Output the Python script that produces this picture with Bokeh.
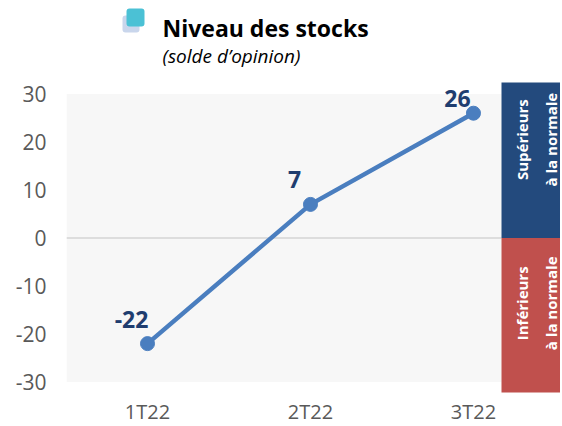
import math
from bokeh.plotting import figure
from bokeh.models import Range1d, FixedTicker, Label, ColumnDataSource, BoxAnnotation
from bokeh.core.properties import value
from bokeh.embed import file_html
from bokeh.resources import INLINE

categories = ["1T22", "2T22", "3T22"]
values = [-22, 7, 26]
y_ticks = [-30, -20, -10, 0, 10, 20, 30]
title_text = "Niveau des stocks"
subtitle_text = "(solde d\u2019opinion)"
band_top_text = "Supérieurs\nà la normale"
band_bottom_text = "Inférieurs\nà la normale"

FONT = "Open Sans"
xs = list(range(len(categories)))

# frame: page x 67..561, page y 1..426 ; 4.8 px per unit, 163 px per category
p = figure(width=560, height=425, output_backend="svg", toolbar_location=None,
           x_axis_location=None,
           x_range=Range1d(-0.497, 2.534), y_range=Range1d(-39.06, 49.48),
           min_border_left=66, min_border_right=0, min_border_top=0, min_border_bottom=0)
p.outline_line_color = None
p.background_fill_color = "white"
p.border_fill_color = "white"
p.xgrid.visible = False
p.ygrid.visible = False

# plot area background
p.quad(left=-0.497, right=2.172, bottom=-30, top=30, fill_color="#f7f7f7", line_color=None)
# zero line
p.segment(x0=-0.497, y0=0, x1=2.172, y1=0, line_color="#d4d4d4", line_width=1.5)

# side bands
p.quad(left=2.172, right=2.7, bottom=0, top=32.4, fill_color="#234a7d", line_color=None)
p.quad(left=2.172, right=2.7, bottom=-32.2, top=0, fill_color="#c0504d", line_color=None)
p.text(x=[2.387, 2.387], y=[20.5, -13.6], text=[band_top_text, band_bottom_text],
       angle=math.pi / 2, text_align="center", text_baseline="middle",
       text_color="white", text_font=value(FONT), text_font_style="bold",
       text_font_size="15px", text_line_height=1.45)

# series
src = ColumnDataSource(dict(x=xs, y=values, lab=[str(v) for v in values],
                            ly=[min(v + 5.1, 29.1) for v in values]))
p.line("x", "y", source=src, line_color="#4a7ebf", line_width=4.5)
p.scatter("x", "y", source=src, size=14, fill_color="#4a7ebf", line_color="#4a7ebf")
p.text("x", "ly", text="lab", source=src, x_offset=-16,
       text_align="center", text_baseline="middle", text_color="#1f3d6f",
       text_font=value(FONT), text_font_style="bold", text_font_size="23px")

# category labels (x axis)
p.text(x=xs, y=[-36.15] * len(xs), text=categories, text_align="center",
       text_baseline="middle", text_color="#595959", text_font=value(FONT),
       text_font_size="20px")

# y axis
p.yaxis.ticker = FixedTicker(ticks=y_ticks)
p.yaxis.major_label_overrides = {t: str(t) for t in y_ticks}
p.yaxis.axis_line_color = None
p.yaxis.major_tick_line_color = None
p.yaxis.minor_tick_line_color = None
p.yaxis.major_tick_out = 0
p.yaxis.major_tick_in = 0
p.yaxis.major_label_standoff = 20
p.yaxis.major_label_text_font = FONT
p.yaxis.major_label_text_font_size = "21px"
p.yaxis.major_label_text_color = "#595959"

# title block, screen coords relative to frame (frame left at page x 67, bottom at page y 426)
def sx(px):
    return px - 67
def sy(py):
    return 426 - py

p.add_layout(Label(x=sx(163), y=sy(28), x_units="screen", y_units="screen",
                   text=title_text, text_font=FONT, text_font_style="bold",
                   text_font_size="23px", text_color="black", text_baseline="alphabetic"))
p.add_layout(Label(x=sx(163), y=sy(56), x_units="screen", y_units="screen",
                   text=subtitle_text, text_font=FONT, text_font_style="italic",
                   text_font_size="19px", text_color="black", text_baseline="alphabetic"))

p.add_layout(BoxAnnotation(left=sx(123), right=sx(140), top=sy(16), bottom=sy(33),
                           left_units="screen", right_units="screen",
                           top_units="screen", bottom_units="screen",
                           fill_color="#c9d6ec", fill_alpha=1, line_color=None,
                           border_radius=3))
p.add_layout(BoxAnnotation(left=sx(127), right=sx(145), top=sy(9), bottom=sy(27),
                           left_units="screen", right_units="screen",
                           top_units="screen", bottom_units="screen",
                           fill_color="#4bc1d5", fill_alpha=1, line_color=None,
                           border_radius=3))

open("out.html", "w").write(file_html(p, INLINE))
